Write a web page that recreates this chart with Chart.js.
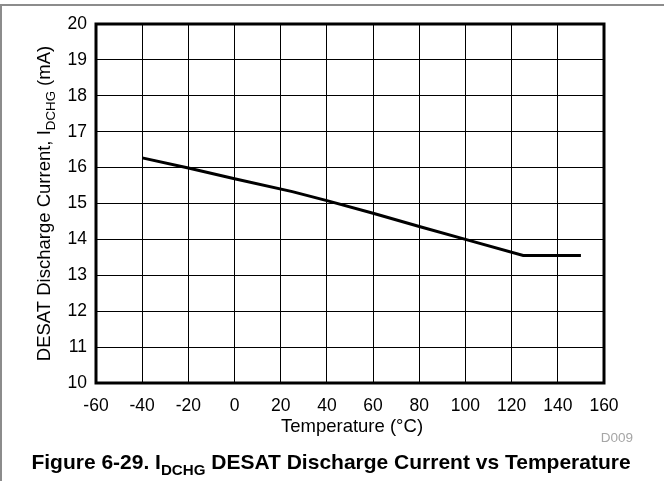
<!DOCTYPE html>
<html>
<head>
<meta charset="utf-8">
<script src="https://cdn.jsdelivr.net/npm/chart.js@4.4.1/dist/chart.umd.min.js"></script>
<style>
  html, body { margin: 0; padding: 0; background: #fff; }
  #wrap { width: 664px; height: 481px; position: relative; }
</style>
</head>
<body>
<div id="wrap"><canvas id="chart" width="664" height="481"></canvas></div>
<script>
// data
const temperature = [-40, -20, 0, 25, 40, 60, 80, 100, 125, 150];
const dischargeCurrent = [16.27, 15.99, 15.69, 15.33, 15.08, 14.73, 14.36, 14.0, 13.55, 13.55];
const xTicks = [-60, -40, -20, 0, 20, 40, 60, 80, 100, 120, 140, 160];
const yTicks = [10, 11, 12, 13, 14, 15, 16, 17, 18, 19, 20];

const FONT = "'Liberation Sans', Arial, sans-serif";

// draws text with a subscript part, returns total width
const drawSub = (ctx, parts, x, y, size, bold, measureOnly) => {
    let w = 0;
    parts.forEach(p => {
        const s = p.sub ? size * 0.72 : size;
        ctx.font = (bold ? "bold " : "") + s + "px " + FONT;
        if (!measureOnly) ctx.fillText(p.t, x + w, y + (p.sub ? size * 0.28 : 0));
        w += ctx.measureText(p.t).width;
    });
    return w;
};

const decorations = {
    id: "decorations",
    afterDraw(chart) {
        const ctx = chart.ctx;
        const a = chart.chartArea;
        ctx.save();
        // outer frame (top and left)
        ctx.strokeStyle = "#8c8c8c";
        ctx.lineWidth = 2;
        ctx.beginPath();
        ctx.moveTo(1, 481);
        ctx.lineTo(1, 5);
        ctx.lineTo(664, 5);
        ctx.stroke();

        // plot border
        ctx.strokeStyle = "#000";
        ctx.lineWidth = 3;
        ctx.strokeRect(a.left, a.top, a.right - a.left, a.bottom - a.top);

        ctx.fillStyle = "#000";
        ctx.textBaseline = "alphabetic";

        // y axis title, rotated, with subscript
        const yParts = [{t: "DESAT Discharge Current, I"}, {t: "DCHG", sub: true}, {t: " (mA)"}];
        const yw = drawSub(ctx, yParts, 0, 0, 18.5, false, true);
        ctx.save();
        ctx.translate(50, (a.top + a.bottom) / 2);
        ctx.rotate(-Math.PI / 2);
        drawSub(ctx, yParts, -yw / 2, 0, 18.5, false, false);
        ctx.restore();

        // x axis title
        ctx.font = "18.5px " + FONT;
        ctx.textAlign = "center";
        ctx.fillText("Temperature (\u00B0C)", (a.left + a.right) / 2 + 2, 432);

        // figure id
        ctx.fillStyle = "#a6a6a6";
        ctx.font = "13.5px " + FONT;
        ctx.textAlign = "right";
        ctx.fillText("D009", 633, 442);

        // caption
        ctx.fillStyle = "#000";
        ctx.textAlign = "left";
        const cParts = [{t: "Figure 6-29. I"}, {t: "DCHG", sub: true}, {t: " DESAT Discharge Current vs Temperature"}];
        const cw = drawSub(ctx, cParts, 0, 0, 21, true, true);
        drawSub(ctx, cParts, 331 - cw / 2, 469, 21, true, false);
        ctx.restore();
    }
};

new Chart(document.getElementById("chart"), {
    type: "line",
    data: {
        datasets: [{
            data: temperature.map((t, i) => ({x: t, y: dischargeCurrent[i]})),
            borderColor: "#000",
            borderWidth: 3,
            pointRadius: 0,
            tension: 0,
            fill: false
        }]
    },
    options: {
        responsive: false,
        animation: false,
        layout: { padding: { left: 0, top: 24, right: 60, bottom: 0 } },
        plugins: { legend: { display: false }, tooltip: { enabled: false } },
        scales: {
            x: {
                type: "linear",
                min: xTicks[0],
                max: xTicks[xTicks.length - 1],
                afterBuildTicks: (scale) => { scale.ticks = xTicks.map(v => ({value: v})); },
                afterFit: (scale) => { scale.height = 98; },
                grid: { color: "#000", lineWidth: 1, drawTicks: false },
                border: { display: false },
                ticks: { color: "#000", font: { family: FONT, size: 17.5 }, padding: 13, maxRotation: 0 }
            },
            y: {
                type: "linear",
                min: yTicks[0],
                max: yTicks[yTicks.length - 1],
                afterBuildTicks: (scale) => { scale.ticks = yTicks.map(v => ({value: v})); },
                afterFit: (scale) => { scale.width = 96; },
                grid: { color: "#000", lineWidth: 1, drawTicks: false },
                border: { display: false },
                ticks: { color: "#000", font: { family: FONT, size: 17.5 }, padding: 9 }
            }
        }
    },
    plugins: [decorations]
});
</script>
</body>
</html>
